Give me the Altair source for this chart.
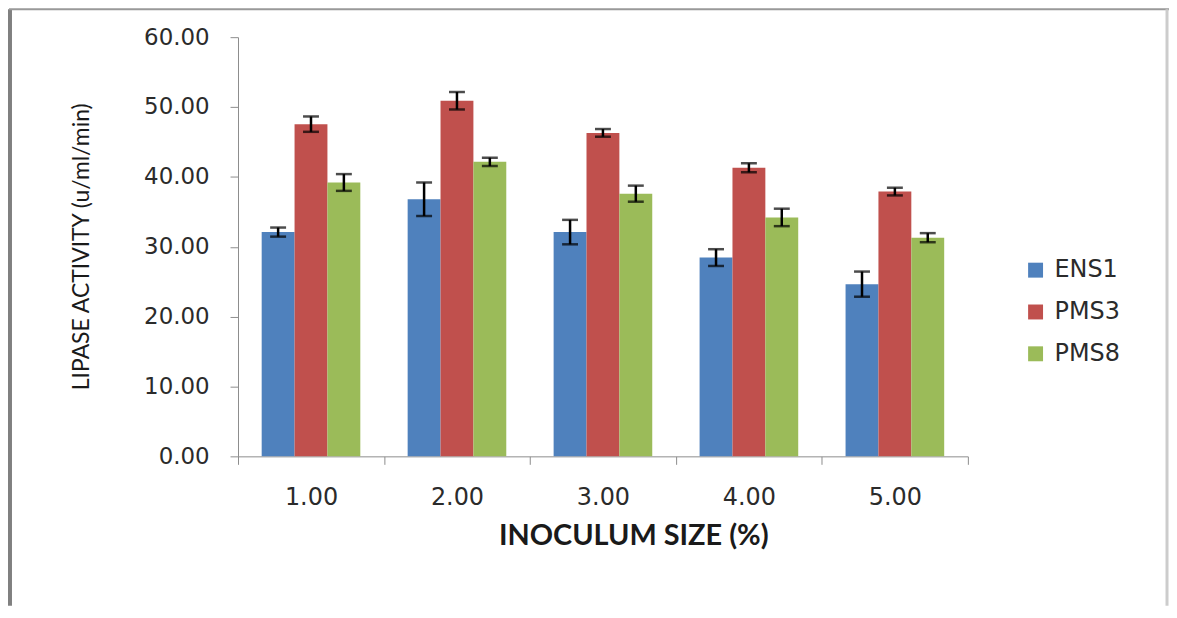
import altair as alt
import pandas as pd

groups = ["1.00", "2.00", "3.00", "4.00", "5.00"]
series = ["ENS1", "PMS3", "PMS8"]
colors = ["#4F81BD", "#C0504D", "#9BBB59"]

ens1 = [32.1, 36.8, 32.1, 28.45, 24.65]
pms3 = [47.55, 50.9, 46.3, 41.3, 37.9]
pms8 = [39.2, 42.15, 37.6, 34.2, 31.3]

ens1_err = [0.65, 2.4, 1.75, 1.2, 1.8]
pms3_err = [1.1, 1.25, 0.55, 0.65, 0.55]
pms8_err = [1.2, 0.6, 1.15, 1.25, 0.65]

y_ticks = [0, 10, 20, 30, 40, 50, 60]

rows = []
for s, vals, errs in [("ENS1", ens1, ens1_err), ("PMS3", pms3, pms3_err), ("PMS8", pms8, pms8_err)]:
    for g, v, e in zip(groups, vals, errs):
        rows.append({"group": g, "series": s, "value": v, "lo": v - e, "hi": v + e})
df = pd.DataFrame(rows)

x_enc = alt.X(
    "group:N", sort=groups,
    scale=alt.Scale(paddingInner=0, paddingOuter=0),
    axis=alt.Axis(
        title="INOCULUM SIZE (%)", labelAngle=0, tickBand="extent",
        labelFont="DejaVu Sans", labelFontSize=24, labelColor="#2b2b2b",
        labelPadding=21, tickSize=8, tickColor="#8c8c8c", domainColor="#8c8c8c",
        titleFont="Lato", titleFontWeight="bold", titleFontSize=29, titleColor="#1a1a1a",
        titleX=397, titleY=80, titleBaseline="middle",
    ),
)
xoff = alt.XOffset("series:N", sort=series, scale=alt.Scale(paddingInner=0, paddingOuter=0.72))
y_scale = alt.Scale(domain=[0, 60], nice=False)

base = alt.Chart(df).encode(x=x_enc, xOffset=xoff)

bars = base.mark_bar().encode(
    y=alt.Y(
        "value:Q", scale=y_scale,
        axis=alt.Axis(
            title="LIPASE ACTIVITY (u/ml/min)", values=y_ticks, format=".2f", grid=False,
            labelFont="DejaVu Sans", labelFontSize=23, labelColor="#2b2b2b",
            labelPadding=21, tickSize=8, tickColor="#8c8c8c", domainColor="#8c8c8c",
            titleFont="Lato", titleFontSize=23, titleFontWeight="normal", titleColor="#1a1a1a",
            titleX=-157, titleY=210, titleAngle=270, titleBaseline="middle", titleAlign="center",
        ),
    ),
    color=alt.Color(
        "series:N", sort=series, scale=alt.Scale(domain=series, range=colors),
        legend=alt.Legend(
            title=None, orient="none", legendX=789, legendY=222,
            symbolType="square", symbolSize=225, symbolStrokeWidth=0,
            labelFont="DejaVu Sans", labelFontSize=24, labelColor="#2b2b2b",
            rowPadding=18, labelOffset=7,
        ),
    ),
)

err = base.mark_rule(color="black", strokeWidth=2.5).encode(
    y=alt.Y("lo:Q", scale=y_scale), y2="hi:Q"
)
cap_lo = base.mark_tick(color="black", thickness=2.5, size=16).encode(y=alt.Y("lo:Q", scale=y_scale))
cap_hi = base.mark_tick(color="black", thickness=2.5, size=16).encode(y=alt.Y("hi:Q", scale=y_scale))

frame_df = pd.DataFrame({"k": [0]})
frame = alt.Chart(frame_df)
left_b = frame.mark_rule(color="#808080", strokeWidth=4).encode(
    x=alt.value(-229), y=alt.value(-28), y2=alt.value(571)
)
top_b = frame.mark_rule(color="#999999", strokeWidth=2).encode(
    x=alt.value(-230), x2=alt.value(936), y=alt.value(-28)
)
right_b = frame.mark_rule(color="#cccccc", strokeWidth=3).encode(
    x=alt.value(933), y=alt.value(-28), y2=alt.value(571)
)

chart = alt.layer(bars, err, cap_lo, cap_hi, left_b, top_b, right_b).properties(
    width=733, height=421,
    padding={"left": 231, "top": 28, "right": 202, "bottom": 150},
    autosize=alt.AutoSizeParams(type="none"),
).configure_view(stroke=None).configure_axis(grid=False)

chart.save("out.html", embed_options={"renderer": "svg", "actions": False})
